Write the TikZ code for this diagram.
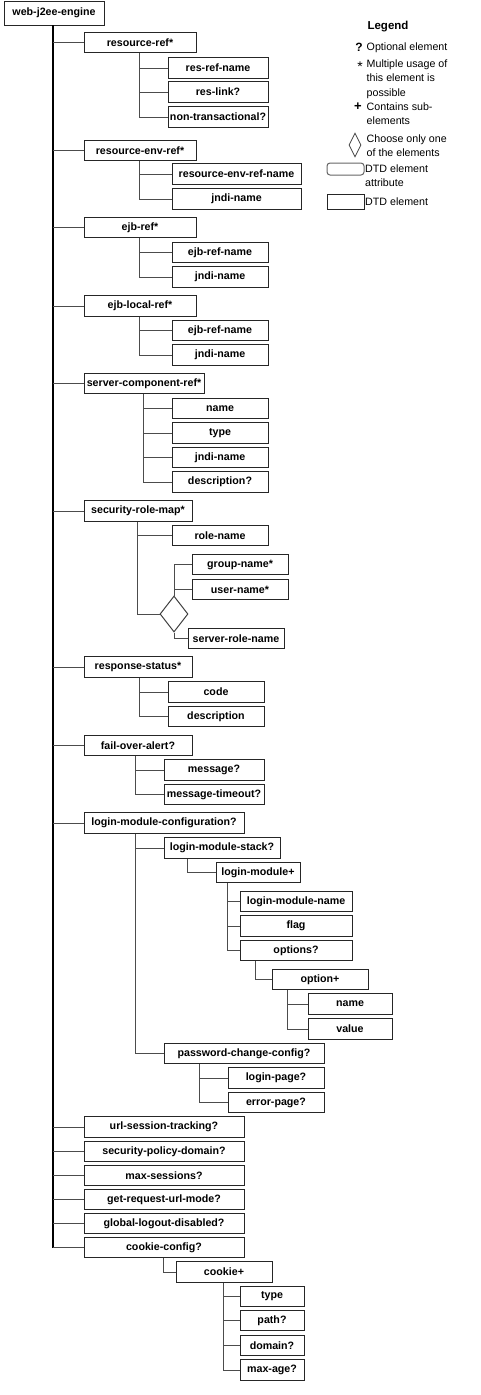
\documentclass[tikz,border=0pt]{standalone}
\usepackage{fontspec}
\setmainfont{Liberation Sans}
\usetikzlibrary{shapes.geometric}
\begin{document}
\begin{tikzpicture}[x=1pt,y=-1pt,
  box/.style={draw=black!85,line width=1pt,fill=white,inner sep=0pt,minimum height=20.5pt,
    font=\fontsize{10.67}{12}\selectfont\bfseries},
  conn/.style={draw=black!70,line width=1pt},
  trunk/.style={draw=black,line width=2pt},
  legtxt/.style={font=\fontsize{10.67}{14.5}\selectfont,align=left,anchor=north west,inner sep=0pt},
  legsym/.style={font=\fontsize{12}{14}\selectfont\bfseries,inner sep=0pt}]
\useasboundingbox (0,0) rectangle (481,1395);

% root
\node[box,minimum width=100pt,minimum height=24pt] (root) at (54,13) {web-j2ee-engine};
\coordinate (t0) at (53,25);

% level 1
\node[box,minimum width=112pt] (rr) at (140,42.5) {resource-ref*};
\node[box,minimum width=112pt] (rer) at (140,150.5) {resource-env-ref*};
\node[box,minimum width=112pt] (er) at (140,227.5) {ejb-ref*};
\node[box,minimum width=112pt] (elr) at (140,306) {ejb-local-ref*};
\node[box,minimum width=120pt] (scr) at (144,383.5) {server-component-ref*};
\node[box,minimum width=108pt] (srm) at (138,511) {security-role-map*};
\node[box,minimum width=108pt] (rs) at (138,667) {response-status*};
\node[box,minimum width=108pt] (foa) at (138,745.5) {fail-over-alert?};
\node[box,minimum width=160pt] (lmc) at (164,823) {login-module-configuration?};
\node[box,minimum width=160pt] (ust) at (164,1127) {url-session-tracking?};
\node[box,minimum width=160pt] (spd) at (164,1151.5) {security-policy-domain?};
\node[box,minimum width=160pt] (ms) at (164,1175.5) {max-sessions?};
\node[box,minimum width=160pt] (grum) at (164,1199.5) {get-request-url-mode?};
\node[box,minimum width=160pt] (gld) at (164,1223.5) {global-logout-disabled?};
\node[box,minimum width=160pt] (cc) at (164,1247.5) {cookie-config?};

% trunk
\draw[trunk] (t0) -- (t0 |- cc.west);
\foreach \n in {rr,rer,er,elr,scr,srm,rs,foa,lmc,ust,spd,ms,grum,gld,cc}
  \draw[conn] (t0 |- \n.west) -- (\n.west);

% resource-ref children
\node[box,minimum width=100pt] (rr1) at (218,68) {res-ref-name};
\node[box,minimum width=100pt] (rr2) at (218,92) {res-link?};
\node[box,minimum width=100pt] (rr3) at (218,117) {non-transactional?};
\foreach \c in {rr1,rr2,rr3} \draw[conn] ([xshift=56pt]rr.south west) |- (\c.west);

% resource-env-ref children
\node[box,minimum width=129pt] (rer1) at (236.5,174) {resource-env-ref-name};
\node[box,minimum width=129pt] (rer2) at (236.5,199) {jndi-name};
\foreach \c in {rer1,rer2} \draw[conn] ([xshift=56pt]rer.south west) |- (\c.west);

% ejb-ref children
\node[box,minimum width=96pt] (er1) at (220,252.5) {ejb-ref-name};
\node[box,minimum width=96pt] (er2) at (220,277) {jndi-name};
\foreach \c in {er1,er2} \draw[conn] ([xshift=56pt]er.south west) |- (\c.west);

% ejb-local-ref children
\node[box,minimum width=96pt] (elr1) at (220,330.5) {ejb-ref-name};
\node[box,minimum width=96pt] (elr2) at (220,355) {jndi-name};
\foreach \c in {elr1,elr2} \draw[conn] ([xshift=56pt]elr.south west) |- (\c.west);

% server-component-ref children
\node[box,minimum width=96pt] (scr1) at (220,408.5) {name};
\node[box,minimum width=96pt] (scr2) at (220,433) {type};
\node[box,minimum width=96pt] (scr3) at (220,457.5) {jndi-name};
\node[box,minimum width=96pt] (scr4) at (220,482) {description?};
\foreach \c in {scr1,scr2,scr3,scr4} \draw[conn] ([xshift=60pt]scr.south west) |- (\c.west);

% security-role-map children
\node[box,minimum width=96pt] (srm1) at (220,535.5) {role-name};
\node[draw=black!75,line width=1pt,diamond,inner sep=0pt,minimum width=28pt,minimum height=36pt] (dm) at (174,614) {};
\node[box,minimum width=96pt] (srm2) at (240,564.5) {group-name*};
\node[box,minimum width=96pt] (srm3) at (240,589.5) {user-name*};
\node[box,minimum width=96pt] (srm4) at (236,638.5) {server-role-name};
\draw[conn] ([xshift=54pt]srm.south west) |- (srm1.west);
\draw[conn] ([xshift=54pt]srm.south west) |- (dm.west);
\draw[conn] (dm.north) |- (srm2.west);
\draw[conn] (dm.north |- srm3.west) -- (srm3.west);
\draw[conn] (dm.south) |- (srm4.west);

% response-status children
\node[box,minimum width=96pt] (rs1) at (216,692) {code};
\node[box,minimum width=96pt] (rs2) at (216,716.5) {description};
\foreach \c in {rs1,rs2} \draw[conn] ([xshift=56pt]rs.south west) |- (\c.west);

% fail-over-alert children
\node[box,minimum width=100pt] (foa1) at (214,770) {message?};
\node[box,minimum width=100pt] (foa2) at (214,794.5) {message-timeout?};
\foreach \c in {foa1,foa2} \draw[conn] ([xshift=52pt]foa.south west) |- (\c.west);

% login-module-configuration children
\node[box,minimum width=116pt] (lms) at (222,848) {login-module-stack?};
\node[box,minimum width=160pt] (pcc) at (244,1053.5) {password-change-config?};
\foreach \c in {lms,pcc} \draw[conn] ([xshift=52pt]lmc.south west) |- (\c.west);

\node[box,minimum width=84pt] (lm) at (258,872.5) {login-module+};
\draw[conn] ([xshift=24pt]lms.south west) |- (lm.west);

\node[box,minimum width=112pt] (lm1) at (296,901.5) {login-module-name};
\node[box,minimum width=112pt] (lm2) at (296,926) {flag};
\node[box,minimum width=112pt] (lm3) at (296,950.5) {options?};
\foreach \c in {lm1,lm2,lm3} \draw[conn] ([xshift=12pt]lm.south west) |- (\c.west);

\node[box,minimum width=96pt] (opt) at (320,979.5) {option+};
\draw[conn] ([xshift=16pt]lm3.south west) |- (opt.west);

\node[box,minimum width=84pt] (opt1) at (350,1004) {name};
\node[box,minimum width=84pt] (opt2) at (350,1029) {value};
\foreach \c in {opt1,opt2} \draw[conn] ([xshift=16pt]opt.south west) |- (\c.west);

\node[box,minimum width=96pt] (pcc1) at (276,1078) {login-page?};
\node[box,minimum width=96pt] (pcc2) at (276,1102.5) {error-page?};
\foreach \c in {pcc1,pcc2} \draw[conn] ([xshift=36pt]pcc.south west) |- (\c.west);

% cookie-config children
\node[box,minimum width=96pt] (ck) at (224,1272) {cookie+};
\draw[conn] ([xshift=80pt]cc.south west) |- (ck.west);

\node[box,minimum width=64pt] (ck1) at (272,1296.5) {type};
\node[box,minimum width=64pt] (ck2) at (272,1320.5) {path?};
\node[box,minimum width=64pt] (ck3) at (272,1345.5) {domain?};
\node[box,minimum width=64pt] (ck4) at (272,1370) {max-age?};
\foreach \c in {ck1,ck2,ck3,ck4} \draw[conn] ([xshift=48pt]ck.south west) |- (\c.west);

% legend
\node[font=\fontsize{11.5}{14}\selectfont\bfseries,inner sep=0pt] (lg) at (388,27) {Legend};
\node[legsym] (lq) at (359,47.5) {?};
\node[legtxt] (lqt) at (366.5,43) {Optional element};
\node[legsym,font=\fontsize{14}{14}\selectfont] (ls) at (360,67) {*};
\node[legtxt] (lst) at (366.5,59.5) {Multiple usage of\\this element is\\possible};
\node[legsym,font=\fontsize{13}{14}\selectfont\bfseries] (lp) at (358,107) {+};
\node[legtxt] (lpt) at (366.5,102.5) {Contains sub-\\elements};
\node[draw=black!75,line width=0.8pt,diamond,inner sep=0pt,minimum width=12pt,minimum height=24pt] (ld) at (355,145) {};
\node[legtxt] (ldt) at (366.5,134.5) {Choose only one\\of the elements};
\node[draw=black!60,line width=1pt,rounded corners=3pt,inner sep=0pt,minimum width=37pt,minimum height=12pt] (lr) at (345.5,169) {};
\node[legtxt] (lrt) at (365,164.5) {DTD element\\attribute};
\node[draw=black!85,line width=1pt,inner sep=0pt,minimum width=37pt,minimum height=15pt] (le) at (345.5,201.5) {};
\node[legtxt] (let) at (365,197.5) {DTD element};
\end{tikzpicture}
\end{document}
